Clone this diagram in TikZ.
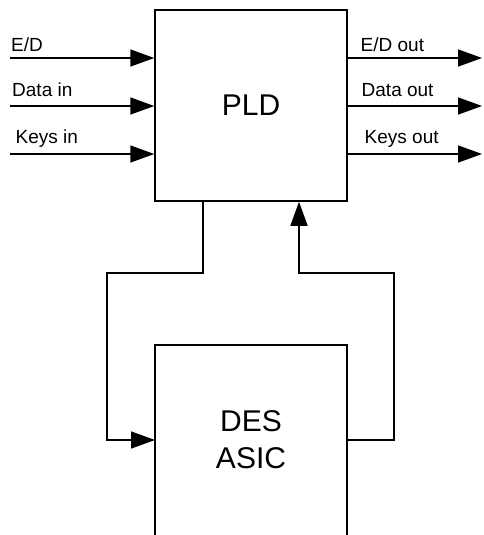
\documentclass[tikz,border=0pt]{standalone}
\usepackage{fontspec}
\setmainfont{Liberation Sans}
\usetikzlibrary{positioning,arrows.meta}

\tikzset{
  box/.style={draw, line width=1.5pt, minimum width=192pt, align=center,
    font=\fontsize{30}{36.7}\selectfont},
  wire/.style={line width=1.5pt},
  sig/.style={wire, -{Triangle[length=24pt,width=17pt]}},
  lbl/.style={anchor=base west, inner sep=0pt, font=\fontsize{19}{22}\selectfont}
}

\begin{document}
\begin{tikzpicture}[x=1pt, y=-1pt]
  \useasboundingbox (0,0) rectangle (483,535);
  % Blocks
  \node[box, minimum height=191pt] (pld) at (251,105.5) {PLD};
  \node[box, draw=none, outer sep=0pt, minimum height=190pt] (des) at (251,440) {DES\\ASIC};
  \draw[wire] (des.south west) -- (des.north west) -- (des.north east) -- (des.south east);
  % Inputs and outputs of the PLD
  \foreach \name/\y in {ed/58, data/106, keys/154} {
    \coordinate (in\name) at (10,\y);
    \coordinate (out\name) at (482,\y);
    \draw[sig] (in\name) -- (in\name -| pld.west);
    \draw[sig] (in\name -| pld.east) -- (out\name);
  }
  \node[lbl] (edinlbl) at (11,52) {E/D};
  \node[lbl] (datainlbl) at (12,96) {Data in};
  \node[lbl] (keysinlbl) at (15.5,143) {Keys in};
  \node[lbl] (edoutlbl) at (360.5,52) {E/D out};
  \node[lbl] (dataoutlbl) at (361.5,96) {Data out};
  \node[lbl] (keysoutlbl) at (364.5,143) {Keys out};
  % Loop through the DES ASIC
  \coordinate (lbend) at (107,273);
  \coordinate (rbend) at (394,273);
  \draw[sig] ([xshift=-48pt]pld.south) |- (lbend) |- (des.west);
  \draw[sig] (des.east) -| (rbend) -| ([xshift=48pt]pld.south);
\end{tikzpicture}
\end{document}
